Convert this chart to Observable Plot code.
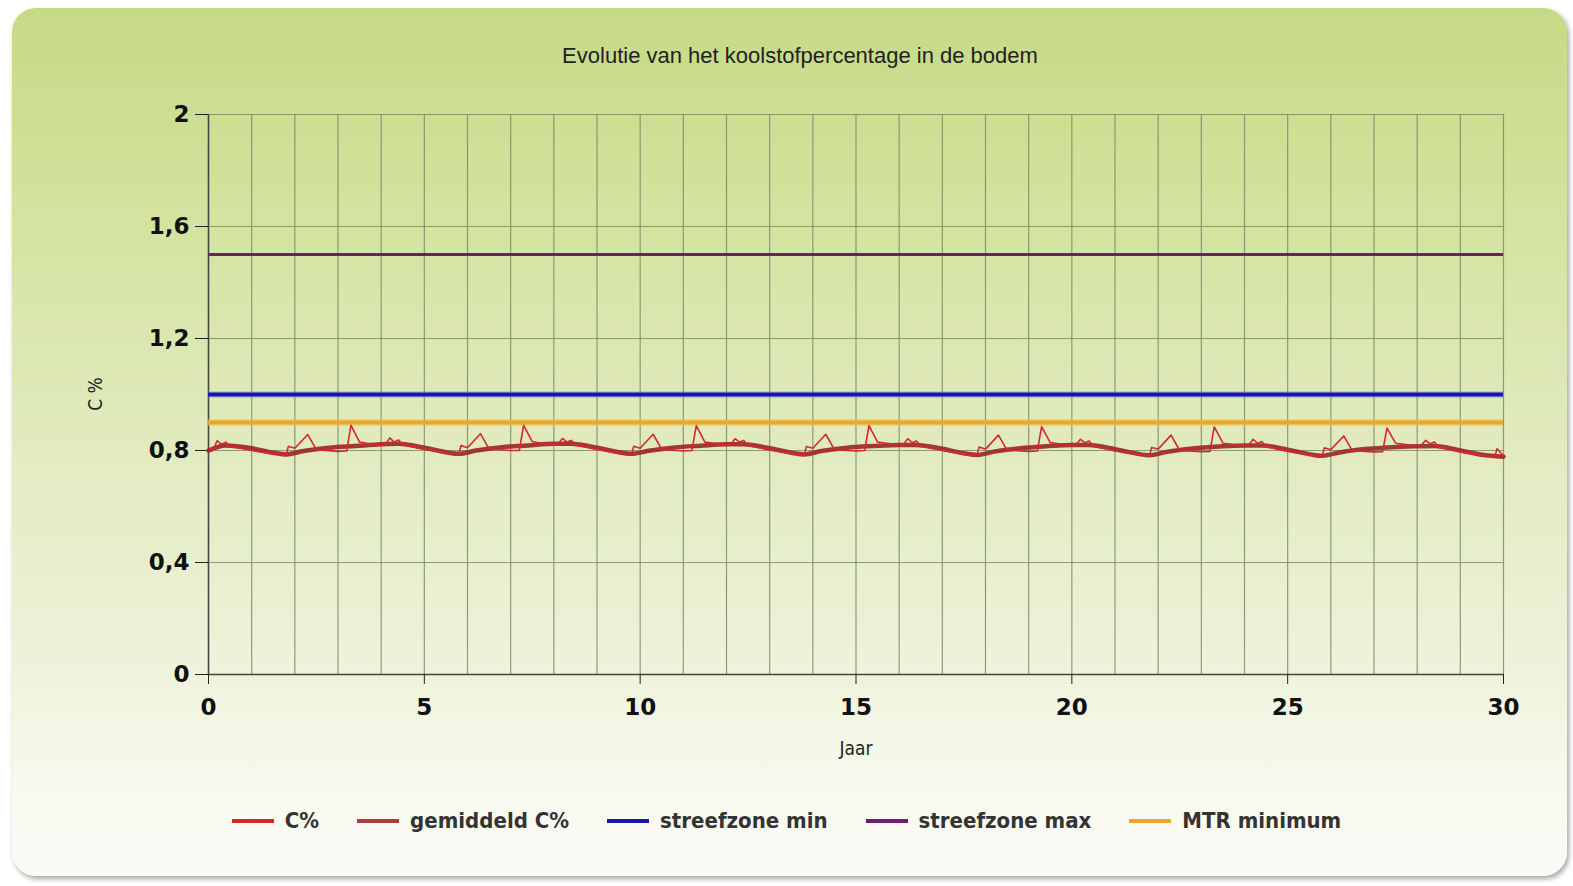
<!DOCTYPE html>
<html>
<head>
<meta charset="utf-8">
<script src="https://cdn.jsdelivr.net/npm/d3@7"></script>
<script src="https://cdn.jsdelivr.net/npm/@observablehq/plot@0.6"></script>
<style>
  html, body { margin: 0; padding: 0; background: #ffffff; }
  #wrap { position: relative; width: 1573px; height: 886px; overflow: hidden; background: #ffffff; }
  #card {
    position: absolute; left: 12px; top: 8px; width: 1555px; height: 868px;
    border-radius: 24px;
    background: linear-gradient(to bottom, #c6da86 0%, #d3e29c 22%, #e0eabc 48%, #ecf1d6 72%, #f8f9ee 90%, #fbfbf6 100%);
    box-shadow: 2px 3px 5px rgba(0,0,0,0.35);
  }
  #title {
    position: absolute; top: 43px; left: 500px; width: 600px; text-align: center;
    font-family: "Liberation Sans", Arial, sans-serif; font-size: 22px; color: #222;
  }
  #chart { position: absolute; left: 0; top: 0; }
  #ylab {
    position: absolute; left: 95px; top: 394px; transform: translate(-50%, -50%) rotate(-90deg);
    font-family: "DejaVu Sans Condensed", "DejaVu Sans", sans-serif; font-size: 19px; color: #222; white-space: nowrap;
  }
  #xlab {
    position: absolute; left: 856px; top: 748px; transform: translate(-50%, -50%);
    font-family: "DejaVu Sans Condensed", "DejaVu Sans", sans-serif; font-size: 19px; color: #222;
  }
  #legend {
    position: absolute; left: 0; width: 1573px; top: 808px; display: flex; justify-content: center; gap: 38px;
    font-family: "DejaVu Sans Condensed", "DejaVu Sans", sans-serif; font-weight: bold; font-size: 22px; color: #333;
  }
  .item { display: flex; align-items: center; gap: 11px; }
  .sw { width: 42px; height: 4px; }
</style>
</head>
<body>
<div id="wrap">
  <div id="card"></div>
  <div id="title">Evolutie van het koolstofpercentage in de bodem</div>
  <div id="chart"></div>
  <div id="ylab">C %</div>
  <div id="xlab">Jaar</div>
  <div id="legend"></div>
</div>
<script>
// ---- data ----
const cYears = [
  0.0,0.1,0.2,0.3,0.4,0.5,1.0,1.5,1.8,1.85,2.0,2.3,2.5,3.0,3.2,3.3,3.5,3.7,
  4.0,4.1,4.2,4.3,4.4,4.5,5.0,5.5,5.8,5.85,6.0,6.3,6.5,7.0,7.2,7.3,7.5,7.7,
  8.0,8.1,8.2,8.3,8.4,8.5,9.0,9.5,9.8,9.85,10.0,10.3,10.5,11.0,11.2,11.3,11.5,11.7,
  12.0,12.1,12.2,12.3,12.4,12.5,13.0,13.5,13.8,13.85,14.0,14.3,14.5,15.0,15.2,15.3,15.5,15.7,
  16.0,16.1,16.2,16.3,16.4,16.5,17.0,17.5,17.8,17.85,18.0,18.3,18.5,19.0,19.2,19.3,19.5,19.7,
  20.0,20.1,20.2,20.3,20.4,20.5,21.0,21.5,21.8,21.85,22.0,22.3,22.5,23.0,23.2,23.3,23.5,23.7,
  24.0,24.1,24.2,24.3,24.4,24.5,25.0,25.5,25.8,25.85,26.0,26.3,26.5,27.0,27.2,27.3,27.5,27.7,
  28.0,28.1,28.2,28.3,28.4,28.5,29.0,29.5,29.8,29.85,30.0
];
const cValues = [
  0.795,0.800,0.835,0.822,0.830,0.815,0.800,0.788,0.782,0.815,0.808,0.857,0.803,0.797,0.798,0.890,0.830,0.825,
  0.818,0.822,0.845,0.830,0.838,0.820,0.805,0.792,0.788,0.818,0.810,0.860,0.806,0.800,0.800,0.890,0.832,0.826,
  0.820,0.824,0.843,0.830,0.836,0.820,0.804,0.790,0.785,0.815,0.808,0.858,0.804,0.798,0.800,0.889,0.830,0.826,
  0.820,0.823,0.842,0.830,0.836,0.818,0.802,0.789,0.784,0.814,0.808,0.858,0.803,0.798,0.800,0.889,0.830,0.826,
  0.820,0.822,0.842,0.828,0.834,0.816,0.800,0.786,0.782,0.812,0.805,0.855,0.801,0.797,0.798,0.885,0.828,0.824,
  0.818,0.822,0.840,0.828,0.834,0.815,0.798,0.786,0.781,0.811,0.805,0.855,0.800,0.796,0.797,0.884,0.826,0.822,
  0.818,0.820,0.840,0.826,0.832,0.814,0.797,0.784,0.780,0.810,0.803,0.852,0.799,0.795,0.796,0.880,0.826,0.822,
  0.816,0.820,0.836,0.824,0.830,0.812,0.796,0.782,0.778,0.806,0.780
];
const avgYears = [
  0,0.4,1.0,1.5,1.8,2.2,2.8,3.4,
  4.0,4.4,5.0,5.5,5.8,6.2,6.8,7.4,
  8.0,8.4,9.0,9.5,9.8,10.2,10.8,11.4,
  12.0,12.4,13.0,13.5,13.8,14.2,14.8,15.4,
  16.0,16.4,17.0,17.5,17.8,18.2,18.8,19.4,
  20.0,20.4,21.0,21.5,21.8,22.2,22.8,23.4,
  24.0,24.4,25.0,25.5,25.8,26.2,26.8,27.4,
  28.0,28.4,29.0,29.5,30.0
];
const avgValues = [
  0.800,0.818,0.808,0.792,0.786,0.798,0.810,0.816,
  0.822,0.824,0.810,0.794,0.788,0.800,0.812,0.818,
  0.824,0.824,0.810,0.794,0.788,0.799,0.811,0.817,
  0.822,0.822,0.808,0.792,0.786,0.798,0.810,0.816,
  0.820,0.820,0.806,0.790,0.784,0.796,0.808,0.815,
  0.820,0.820,0.805,0.789,0.783,0.795,0.807,0.814,
  0.818,0.818,0.803,0.787,0.781,0.793,0.805,0.812,
  0.815,0.816,0.800,0.785,0.778
];
const streefzoneMin = 1.0;
const streefzoneMax = 1.5;
const mtrMinimum = 0.9;
const yTicks = [0, 0.4, 0.8, 1.2, 1.6, 2];
const xTicks = [0, 5, 10, 15, 20, 25, 30];
const gridYears = d3.range(0, 31);
const seriesNames = ["C%", "gemiddeld C%", "streefzone min", "streefzone max", "MTR minimum"];
const seriesColors = ["#d8272a", "#a8403f", "#1818a8", "#6b1e70", "#eaa72c"];

const cData = cYears.map((x, i) => ({x, y: cValues[i]}));
const avgData = avgYears.map((x, i) => ({x, y: avgValues[i]}));

const tickFont = {fontFamily: "'DejaVu Sans', sans-serif", fontWeight: "bold", fontSize: 23, fill: "#111"};

const plot = Plot.plot({
  width: 1573,
  height: 760,
  marginLeft: 208,
  marginRight: 70,
  marginTop: 114,
  marginBottom: 86,
  style: {background: "transparent", overflow: "visible"},
  x: {domain: [0, 30]},
  y: {domain: [0, 2]},
  marks: [
    Plot.ruleX(gridYears, {stroke: "#7d8c66", strokeWidth: 1.2, strokeOpacity: 0.85}),
    Plot.ruleY(yTicks, {stroke: "#7d8c66", strokeWidth: 1.2, strokeOpacity: 0.85}),
    Plot.ruleX([0], {stroke: "#444", strokeWidth: 1.5}),
    Plot.ruleY([0], {stroke: "#444", strokeWidth: 1.5}),
    Plot.axisY({ticks: yTicks, tickFormat: d => String(d).replace(".", ","), tickSize: 13, tickPadding: 6, label: null, stroke: "#222", ...tickFont}),
    Plot.axisX({ticks: xTicks, tickFormat: d => String(d), tickSize: 10, tickPadding: 14, label: null, stroke: "#222", ...tickFont}),
    Plot.ruleY([streefzoneMax], {stroke: seriesColors[3], strokeWidth: 3}),
    Plot.ruleY([streefzoneMin], {stroke: "#7f80e8", strokeWidth: 6.5, strokeOpacity: 0.45}),
    Plot.ruleY([streefzoneMin], {stroke: seriesColors[2], strokeWidth: 3.8}),
    Plot.ruleY([mtrMinimum], {stroke: "#f4c14a", strokeWidth: 6.5, strokeOpacity: 0.6}),
    Plot.ruleY([mtrMinimum], {stroke: seriesColors[4], strokeWidth: 3.8}),
    Plot.line(avgData, {x: "x", y: "y", stroke: "#9c2424", strokeWidth: 4.5, strokeOpacity: 0.9, curve: "monotone-x"}),
    Plot.line(cData, {x: "x", y: "y", stroke: seriesColors[0], strokeWidth: 1.6})
  ]
});
document.getElementById("chart").appendChild(plot);

const legend = document.getElementById("legend");
seriesNames.forEach((name, i) => {
  const it = document.createElement("div");
  it.className = "item";
  const sw = document.createElement("div");
  sw.className = "sw";
  sw.style.background = seriesColors[i];
  const tx = document.createElement("span");
  tx.textContent = name;
  it.appendChild(sw);
  it.appendChild(tx);
  legend.appendChild(it);
});
</script>
</body>
</html>
